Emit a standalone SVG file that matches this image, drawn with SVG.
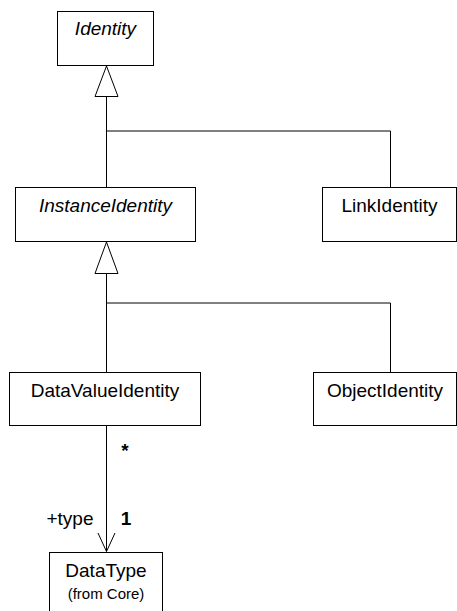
<svg xmlns="http://www.w3.org/2000/svg" width="457" height="611" viewBox="0 0 457 611">
  <style>
    .box { fill: #ffffff; stroke: #000000; stroke-width: 1; }
    .lbl { font-family: "Liberation Sans", Arial, sans-serif; font-size: 19px; fill: #000000; text-anchor: middle; }
    .abs { font-style: italic; }
    .small { font-size: 15px; }
    .line { fill: none; stroke: #000000; stroke-width: 1; }
    .tri { fill: #ffffff; stroke: #000000; stroke-width: 1; }
  </style>
  <rect width="457" height="611" fill="#ffffff"/>

  <g id="connectors">
    <!-- generalization: Identity <- InstanceIdentity, LinkIdentity -->
    <polyline class="line" points="106.5,96.5 106.5,187.5"/>
    <line class="line" x1="106.5" y1="131" x2="390.5" y2="131"/>
    <line class="line" x1="390.5" y1="131" x2="390.5" y2="187.5"/>
    <polygon class="tri" points="106.5,66 95,96.5 118,96.5"/>
    <!-- generalization: InstanceIdentity <- DataValueIdentity, ObjectIdentity -->
    <polyline class="line" points="106.5,273.5 106.5,372.5"/>
    <line class="line" x1="106.5" y1="303" x2="390.5" y2="303"/>
    <line class="line" x1="390.5" y1="303" x2="390.5" y2="372.5"/>
    <polygon class="tri" points="106.5,242 95,273.5 118,273.5"/>
    <!-- association DataValueIdentity -> DataType -->
    <line class="line" x1="106.5" y1="425.5" x2="106.5" y2="551.5"/>
    <polyline class="line" points="98,533 106.5,551.5 115,533"/>
    <text class="lbl" x="125" y="457" font-weight="bold">*</text>
    <text class="lbl" x="70" y="525">+type</text>
    <text class="lbl" x="126" y="525" font-weight="bold">1</text>
  </g>

  <g id="Identity">
    <rect class="box" x="57.5" y="11.5" width="96" height="54"/>
    <text class="lbl abs" x="105.5" y="35">Identity</text>
  </g>
  <g id="InstanceIdentity">
    <rect class="box" x="15.5" y="187.5" width="180" height="54"/>
    <text class="lbl abs" x="105.5" y="212">InstanceIdentity</text>
  </g>
  <g id="LinkIdentity">
    <rect class="box" x="322.5" y="187.5" width="134" height="54"/>
    <text class="lbl" x="389.5" y="212">LinkIdentity</text>
  </g>
  <g id="DataValueIdentity">
    <rect class="box" x="9.5" y="372.5" width="191" height="53"/>
    <text class="lbl" x="105" y="397">DataValueIdentity</text>
  </g>
  <g id="ObjectIdentity">
    <rect class="box" x="313.5" y="372.5" width="143" height="53"/>
    <text class="lbl" x="385" y="397">ObjectIdentity</text>
  </g>
  <g id="DataType">
    <rect class="box" x="49.5" y="552.5" width="113" height="70"/>
    <text class="lbl" x="106" y="577">DataType</text>
    <text class="lbl small" x="106" y="599">(from Core)</text>
  </g>
</svg>
